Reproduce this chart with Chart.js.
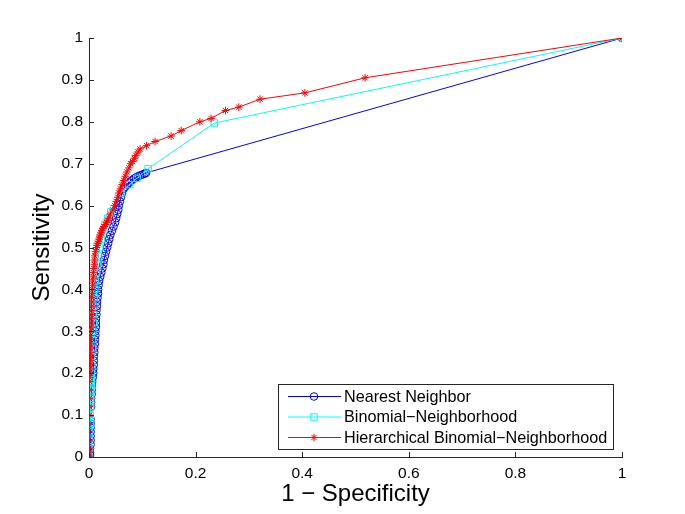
<!DOCTYPE html>
<html>
<head>
<meta charset="utf-8">
<script src="https://cdn.jsdelivr.net/npm/chart.js@4/dist/chart.umd.min.js"></script>
<style>
html,body{margin:0;padding:0;background:#fff;}
#wrap{width:685px;height:514px;}
</style>
</head>
<body>
<div id="wrap"><canvas id="c" width="685" height="514"></canvas></div>
<script>
// ---- data ----
const seriesNames = ['Nearest Neighbor', 'Binomial\u2212Neighborhood', 'Hierarchical Binomial\u2212Neighborhood'];

const nnX = [0,0.002,0.002,0.002,0.003,0.003,0.003,0.003,0.003,0.003,0.003,
  0.004,0.004,0.004,0.005,0.005,0.005,0.006,0.007,0.008,0.008,0.009,0.009,0.009,0.010,0.010,0.011,0.011,0.012,0.012,
  0.013,0.013,0.013,0.014,0.014,0.015,0.015,0.016,0.017,0.017,0.018,0.019,0.021,0.023,0.025,0.027,0.028,0.030,0.032,
  0.034,0.036,0.038,0.040,0.043,0.046,0.049,0.051,0.053,0.055,0.056,0.058,0.060,0.062,0.065,0.068,0.072,0.076,0.080,
  0.084,0.088,0.092,0.096,0.100,0.104,0.107,1];
const nnY = [0,0.005,0.01,0.02,0.03,0.04,0.05,0.06,0.07,0.08,0.09,
  0.12,0.13,0.14,0.15,0.16,0.17,0.18,0.19,0.20,0.21,0.22,0.23,0.24,0.25,0.26,0.27,0.28,0.29,0.30,
  0.31,0.32,0.33,0.34,0.35,0.36,0.37,0.38,0.39,0.40,0.41,0.42,0.43,0.44,0.45,0.46,0.47,0.48,0.49,
  0.50,0.51,0.52,0.53,0.54,0.55,0.56,0.57,0.58,0.59,0.60,0.61,0.62,0.63,0.64,0.645,0.65,0.655,0.66,
  0.664,0.667,0.670,0.672,0.674,0.676,0.678,1];

const bnX = [0,0.001,0.001,0.001,0.002,0.002,0.003,0.003,0.003,0.003,0.003,0.004,0.004,0.004,0.004,0.005,0.005,0.006,0.006,
  0.007,0.008,0.008,0.009,0.010,0.011,0.012,0.014,0.016,0.018,0.020,0.023,0.026,0.030,0.035,0.041,0.060,0.075,0.090,0.111,0.235,1];
const bnY = [0,0.02,0.04,0.06,0.08,0.10,0.12,0.13,0.14,0.15,0.16,0.17,0.18,0.19,0.20,0.22,0.24,0.26,0.28,
  0.30,0.32,0.34,0.36,0.38,0.40,0.42,0.44,0.46,0.48,0.50,0.52,0.54,0.555,0.57,0.585,0.630,0.650,0.665,0.688,0.797,1];

const hbX = [0,0,0,0,0,0,0.001,0.001,0.001,0.001,0.001,0.001,0.002,0.002,0.002,0.002,0.002,0.002,0.003,0.003,
  0.003,0.003,0.003,0.004,0.004,0.004,0.004,0.005,0.005,0.005,0.005,0.006,0.006,0.007,0.007,0.008,0.008,0.009,0.010,0.010,
  0.011,0.012,0.014,0.015,0.016,0.018,0.019,0.020,0.021,0.023,0.024,0.026,0.028,0.031,0.033,0.035,0.037,0.040,0.045,0.048,
  0.051,0.054,0.056,0.059,0.062,0.065,0.068,0.071,0.075,0.078,0.082,0.085,0.088,0.092,0.096,0.108,0.124,0.154,0.173,0.208,
  0.229,0.256,0.281,0.321,0.405,0.518,1];
const hbY = [0,0.01,0.02,0.04,0.06,0.08,0.10,0.12,0.14,0.16,0.18,0.19,0.20,0.21,0.22,0.23,0.24,0.25,0.26,0.27,
  0.28,0.29,0.30,0.31,0.32,0.33,0.34,0.35,0.36,0.37,0.38,0.39,0.40,0.41,0.42,0.43,0.44,0.45,0.46,0.47,
  0.48,0.49,0.50,0.505,0.51,0.515,0.52,0.525,0.53,0.535,0.54,0.545,0.55,0.555,0.56,0.565,0.57,0.58,0.59,0.60,
  0.61,0.62,0.63,0.64,0.65,0.66,0.67,0.68,0.69,0.70,0.705,0.713,0.72,0.728,0.735,0.743,0.753,0.766,0.779,0.800,
  0.808,0.827,0.835,0.854,0.869,0.905,1];

const xTickValues = [0,0.2,0.4,0.6,0.8,1];
const xTickLabels = ['0','0.2','0.4','0.6','0.8','1'];
const yTickValues = [0,0.1,0.2,0.3,0.4,0.5,0.6,0.7,0.8,0.9,1];
const yTickLabels = ['0','0.1','0.2','0.3','0.4','0.5','0.6','0.7','0.8','0.9','1'];
const xTitle = '1 \u2212 Specificity';
const yTitle = 'Sensitivity';

// ---- build ----
function pts(xs, ys){ return xs.map((x,i)=>({x:x, y:ys[i]})); }
const colors = ['#0000ff', '#00ffff', '#ff0000'];
const styles = ['circle', 'rect', 'star'];
const radii = [3.8, 4.6, 3.8];

const FONT = '"Liberation Sans", Arial, Helvetica, sans-serif';

const overlay = {
  id: 'overlay',
  afterDraw(chart){
    const ctx = chart.ctx;
    const xs = chart.scales.x, ys = chart.scales.y;
    const a = chart.chartArea;
    ctx.save();
    // inward ticks
    ctx.strokeStyle = '#262626';
    ctx.lineWidth = 1;
    ctx.beginPath();
    yTickValues.forEach(v=>{
      const p = Math.round(ys.getPixelForValue(v)) + 0.5;
      ctx.moveTo(a.left, p); ctx.lineTo(a.left + 5, p);
    });
    xTickValues.forEach(v=>{
      const p = Math.round(xs.getPixelForValue(v)) + 0.5;
      ctx.moveTo(p, a.bottom); ctx.lineTo(p, a.bottom - 5);
    });
    ctx.stroke();
    // axis titles
    ctx.fillStyle = '#000';
    ctx.font = '24px ' + FONT;
    ctx.textAlign = 'center';
    ctx.textBaseline = 'middle';
    ctx.fillText(xTitle, (a.left + a.right)/2, 494);
    ctx.save();
    ctx.translate(42, (a.top + a.bottom)/2);
    ctx.rotate(-Math.PI/2);
    ctx.fillText(yTitle, 0, 0);
    ctx.restore();
    // legend
    const bx = 278.5, by = 384.5, bw = 335, bh = 65;
    ctx.fillStyle = '#fff';
    ctx.fillRect(bx, by, bw, bh);
    ctx.strokeStyle = '#262626';
    ctx.lineWidth = 1;
    ctx.strokeRect(bx, by, bw, bh);
    const rows = [396.5, 417, 437.5];
    ctx.font = '16.2px ' + FONT;
    ctx.textAlign = 'left';
    seriesNames.forEach((name, i)=>{
      const y = rows[i];
      ctx.strokeStyle = colors[i];
      ctx.lineWidth = 1;
      ctx.beginPath(); ctx.moveTo(288, y); ctx.lineTo(341, y); ctx.stroke();
      ctx.fillStyle = 'rgba(0,0,0,0)';
      Chart.helpers.drawPoint(ctx, {pointStyle: styles[i], radius: radii[i], borderWidth: 1}, 314, y);
      ctx.fillStyle = '#000';
      ctx.fillText(name, 344, y + 1);
    });
    ctx.restore();
  }
};

const datasets = [
  {label: seriesNames[0], data: pts(nnX, nnY), order: 3},
  {label: seriesNames[1], data: pts(bnX, bnY), order: 2},
  {label: seriesNames[2], data: pts(hbX, hbY), order: 1}
].map((d,i)=>Object.assign(d, {
  borderColor: colors[i],
  backgroundColor: 'rgba(0,0,0,0)',
  pointBorderColor: colors[i],
  pointBackgroundColor: 'rgba(0,0,0,0)',
  pointStyle: styles[i],
  pointRadius: radii[i],
  pointBorderWidth: 1,
  borderWidth: 1,
  showLine: true,
  tension: 0,
  fill: false
}));

new Chart(document.getElementById('c'), {
  type: 'scatter',
  data: {datasets},
  options: {
    responsive: false,
    animation: false,
    devicePixelRatio: 1,
    layout: {padding: {left: 0, right: 63, top: 38, bottom: 0}},
    plugins: {legend: {display: false}, tooltip: {enabled: false}},
    scales: {
      x: {
        type: 'linear', min: 0, max: 1,
        afterFit(s){ s.height = 57; },
        afterBuildTicks(s){ s.ticks = xTickValues.map(v=>({value:v})); },
        grid: {display: false, drawTicks: false},
        border: {display: true, color: '#262626', width: 1},
        ticks: {
          padding: 7, color: '#000',
          font: {family: FONT, size: 15.5},
          maxRotation: 0, autoSkip: false,
          callback: (v)=>{ const i = xTickValues.findIndex(t=>Math.abs(t-v)<1e-9); return i>=0 ? xTickLabels[i] : ''; }
        }
      },
      y: {
        type: 'linear', min: 0, max: 1,
        afterFit(s){ s.width = 89; },
        afterBuildTicks(s){ s.ticks = yTickValues.map(v=>({value:v})); },
        grid: {display: false, drawTicks: false},
        border: {display: true, color: '#262626', width: 1},
        ticks: {
          padding: 6, color: '#000',
          font: {family: FONT, size: 15.5},
          autoSkip: false,
          callback: (v)=>{ const i = yTickValues.findIndex(t=>Math.abs(t-v)<1e-9); return i>=0 ? yTickLabels[i] : ''; }
        }
      }
    }
  },
  plugins: [overlay]
});
</script>
</body>
</html>
